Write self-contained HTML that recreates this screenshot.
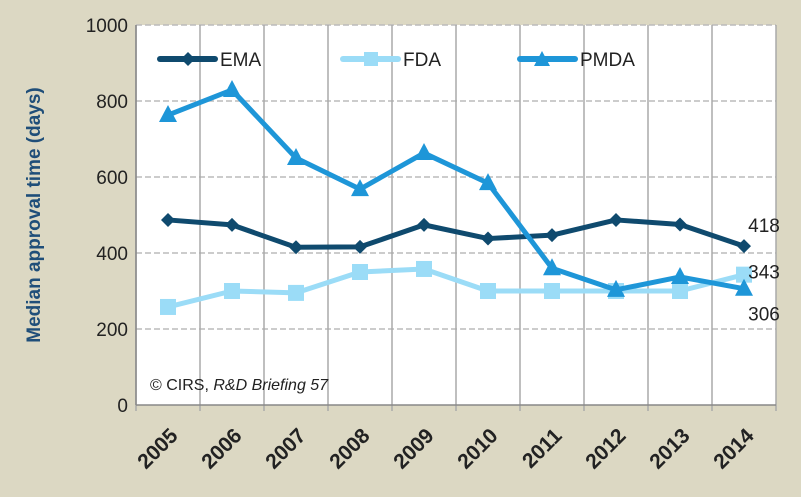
<!DOCTYPE html>
<html><head><meta charset="utf-8"><style>
body{margin:0;background:#dcd8c3;}
svg{display:block;font-family:"Liberation Sans",sans-serif;}
</style></head><body>
<svg width="801" height="497">
<rect x="0" y="0" width="801" height="497" fill="#dcd8c3"/>
<rect x="136" y="25" width="640" height="380" fill="#fff"/>
<g id="grid"></g><g id="axes"></g><g id="series"></g>
<text transform="translate(40,215) rotate(-90)" text-anchor="middle" font-size="19" font-weight="bold" fill="#1f4e79">Median approval time (days)</text>
<text x="150" y="390" font-size="16" fill="#222">© CIRS, <tspan font-style="italic">R&amp;D Briefing 57</tspan></text>
<g>
 <g><line x1="160" y1="59" x2="215" y2="59" stroke="#0f4a6e" stroke-width="6" stroke-linecap="round"/><polygon points="188,52 195,59 188,66 181,59" fill="#0f4a6e"/><text x="220" y="66" font-size="19" fill="#222">EMA</text></g>
 <g><line x1="343" y1="59" x2="398" y2="59" stroke="#9bdcf7" stroke-width="6" stroke-linecap="round"/><rect x="364" y="52" width="14" height="14" fill="#9bdcf7"/><text x="403" y="66" font-size="19" fill="#222">FDA</text></g>
 <g><line x1="520" y1="59" x2="575" y2="59" stroke="#1e96d8" stroke-width="6" stroke-linecap="round"/><polygon points="542,51 550,66 534,66" fill="#1e96d8"/><text x="580" y="66" font-size="19" fill="#222">PMDA</text></g>
</g>
</svg>
<script>
const years=["2005","2006","2007","2008","2009","2010","2011","2012","2013","2014"];
const ema=[487,474,415,416,474,438,447,487,475,418];
const fda=[258,300,295,350,358,300,300,300,300,343];
const pmda=[763,829,650,568,663,584,360,303,337,306];
const yTicks=[0,200,400,600,800,1000];
const NS="http://www.w3.org/2000/svg";
const X0=136,W=640,Y0=405,H=380;
const xs=i=>X0+W/years.length*(i+0.5);
const ys=v=>Y0-v/1000*H;
function mk(t,a,p){const e=document.createElementNS(NS,t);for(const k in a)e.setAttribute(k,a[k]);p.appendChild(e);return e;}
const grid=document.getElementById('grid'),axes=document.getElementById('axes'),ser=document.getElementById('series');
yTicks.forEach(v=>{
 if(v>0){const l=mk('line',{x1:X0,x2:X0+W,y1:ys(v),y2:ys(v),stroke:'#bbb','stroke-width':1.5,'stroke-dasharray':'6,3'},grid);
 
 }
 const t=mk('text',{x:X0-8,y:ys(v)+7,'text-anchor':'end','font-size':19,fill:'#222'},axes);t.textContent=v;
 
 
});
for(let i=0;i<=years.length;i++){
 const x=X0+W/years.length*i;
 const l=mk('line',{x1:x,x2:x,y1:Y0-H,y2:Y0+6,stroke:'#aaa','stroke-width':1.5},grid);
 
 
}
years.forEach((y,i)=>{
 const t=mk('text',{transform:`translate(${xs(i)+11},${Y0+32}) rotate(-45)`,'text-anchor':'end','font-size':21,'font-weight':'bold',fill:'#222'},axes);t.textContent=y;
 
 
});
const ax=mk('line',{x1:X0,x2:X0,y1:Y0-H,y2:Y0,stroke:'#888','stroke-width':1.5},axes);

const bx=mk('line',{x1:X0,x2:X0+W,y1:Y0,y2:Y0,stroke:'#888','stroke-width':1.5},axes);

function series(vals,color,shape,name){
 const g=mk('g',{},ser);
 
 
 const p=mk('polyline',{points:vals.map((v,i)=>xs(i)+','+ys(v)).join(' '),fill:'none',stroke:color,'stroke-width':5,'stroke-linejoin':'round'},g);
 
 
 vals.forEach((v,i)=>{
  const x=xs(i),y=ys(v);let m;
  if(shape==='d')m=mk('polygon',{points:`${x},${y-7} ${x+7},${y} ${x},${y+7} ${x-7},${y}`,fill:color},g);
  else if(shape==='s')m=mk('rect',{x:x-8,y:y-8,width:16,height:16,fill:color},g);
  else m=mk('polygon',{points:`${x},${y-10} ${x+9},${y+7} ${x-9},${y+7}`,fill:color},g);
  
  
 });
}
series(ema,'#0f4a6e','d','ema');
series(fda,'#9bdcf7','s','fda');
series(pmda,'#1e96d8','t','pmda');
const last=years.length-1;
[[ema[last],-14,'ema'],[fda[last],4,'fda'],[pmda[last],32,'pmda']].forEach(([v,dy,n])=>{
 const t=mk('text',{x:xs(last)+20,y:ys(v)+dy,'text-anchor':'middle','font-size':19,fill:'#222'},ser);t.textContent=v;
 
 
});
</script>
</body></html>
